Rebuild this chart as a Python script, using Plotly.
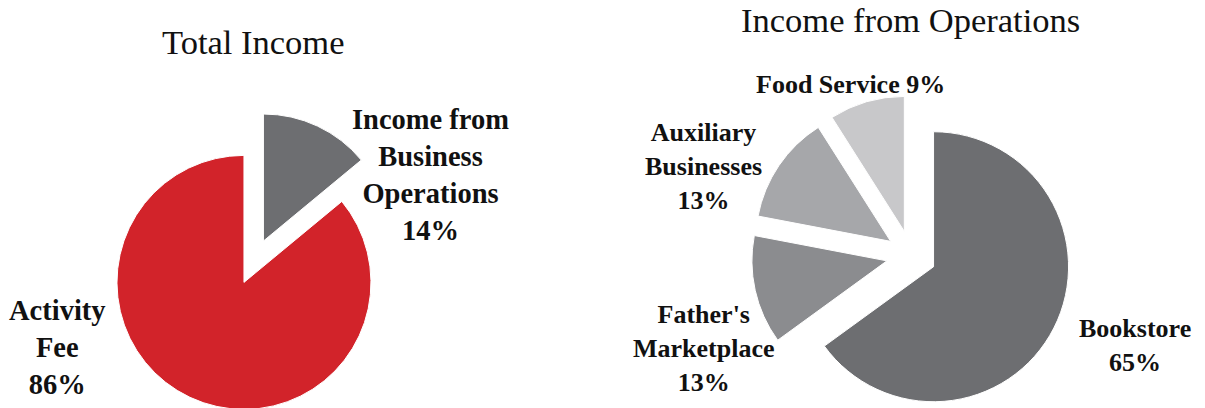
import plotly.graph_objects as go

# ---- data ----
total_labels = ["Income from<br>Business<br>Operations", "Activity<br>Fee"]
total_values = [14, 86]

ops_labels = ["Bookstore", "Father's<br>Marketplace", "Auxiliary<br>Businesses", "Food Service"]
ops_values = [65, 13, 13, 9]

titles = ["Total Income", "Income from Operations"]

# ---- styles ----
total_colors = ["#6D6E71", "#D2232A"]
ops_colors = ["#6D6E71", "#8B8C8F", "#A6A7AA", "#C8C8CA"]
W, H = 1205, 420
serif = "Liberation Serif, Times New Roman, serif"


def fx(x):
    return x / W


def fy(y):
    return 1 - y / H


def domain(cx, cy, half):
    return dict(x=[fx(cx - half), fx(cx + half)], y=[fy(cy + half), fy(cy - half)])


fig = go.Figure()

# left pie (centre ~ (253.7, 261.7), r ~127, pull 0.18)
fig.add_trace(go.Pie(
    labels=total_labels, values=total_values, sort=False,
    direction="clockwise", rotation=0,
    pull=[0.18, 0.18], textinfo="none", hoverinfo="label+percent",
    marker=dict(colors=total_colors, line=dict(color="white", width=1)),
    domain=domain(253.7, 261.7, 127 * 1.18),
    showlegend=False,
))

# right pie (centre ~ (911.3, 255.4), r ~135, pull 0.185)
fig.add_trace(go.Pie(
    labels=ops_labels, values=ops_values, sort=False,
    direction="clockwise", rotation=0,
    pull=[0.185] * 4, textinfo="none", hoverinfo="label+percent",
    marker=dict(colors=ops_colors, line=dict(color="white", width=1)),
    domain=domain(911.3, 255.4, 135 * 1.185),
    showlegend=False,
))

annos = []
for t, (x, y) in zip(titles, [(253, 42), (910, 20)]):
    annos.append(dict(text=t, x=fx(x), y=fy(y), xref="paper", yref="paper",
                      xanchor="center", yanchor="middle", showarrow=False,
                      font=dict(family=serif, size=34.5, color="#111")))

left_pos = [(430, 175), (57, 347)]
for lab, val, (x, y) in zip(total_labels, total_values, left_pos):
    annos.append(dict(text=f"<b>{lab}<br>{val}%</b>", x=fx(x), y=fy(y), xref="paper", yref="paper",
                      xanchor="center", yanchor="middle", showarrow=False, align="center",
                      font=dict(family=serif, size=28.5, color="#111")))

right_pos = [(1135, 345), (704, 348), (703, 167), (850, 85)]
for lab, val, (x, y) in zip(ops_labels, ops_values, right_pos):
    sep = " " if lab == "Food Service" else "<br>"
    annos.append(dict(text=f"<b>{lab}{sep}{val}%</b>", x=fx(x), y=fy(y), xref="paper", yref="paper",
                      xanchor="center", yanchor="middle", showarrow=False, align="center",
                      font=dict(family=serif, size=26, color="#111")))

fig.update_layout(
    width=W, height=H, margin=dict(l=0, r=0, t=0, b=0),
    paper_bgcolor="white", plot_bgcolor="white",
    annotations=annos,
)

fig.write_html("out.html",
               config={"displayModeBar": False},
               post_script="document.body.style.margin='0';document.body.style.overflow='hidden';")
